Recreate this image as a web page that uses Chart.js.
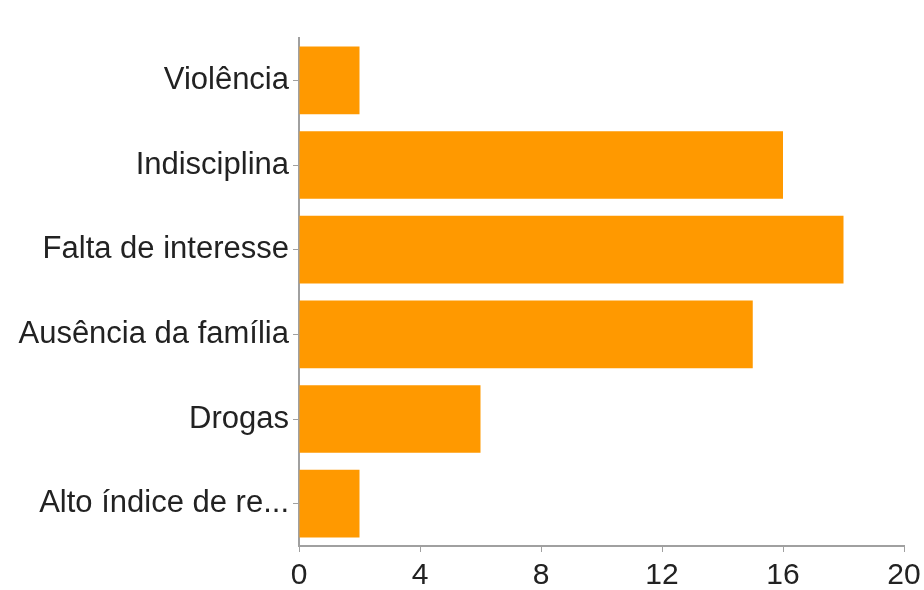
<!DOCTYPE html>
<html>
<head>
<meta charset="utf-8">
<script src="https://cdn.jsdelivr.net/npm/chart.js@4.4.1/dist/chart.umd.min.js"></script>
<style>
  html, body { margin: 0; padding: 0; background: #fff; }
  #wrap { width: 924px; height: 590px; }
</style>
</head>
<body>
<div id="wrap"><canvas id="chart" width="924" height="590"></canvas></div>
<script>
(function() {
  'use strict';

  var categories = [
    'Violência',
    'Indisciplina',
    'Falta de interesse',
    'Ausência da família',
    'Drogas',
    'Alto índice de re...'
  ];
  var values = [2, 16, 18, 15, 6, 2];
  var xTicks = [0, 4, 8, 12, 16, 20];

  var ORANGE = '#ff9900';
  var AXIS   = '#a0a0a0';
  var TEXT   = '#222222';
  var FONT   = "'Liberation Sans', Arial, sans-serif";

  new Chart(document.getElementById('chart'), {
    type: 'bar',
    data: {
      labels: categories,
      datasets: [{
        data: values,
        backgroundColor: ORANGE,
        borderWidth: 0,
        barPercentage: 0.8,
        categoryPercentage: 1.0
      }]
    },
    options: {
      indexAxis: 'y',
      responsive: false,
      animation: false,
      layout: { padding: { left: 0, right: 20, top: 38, bottom: 0 } },
      plugins: {
        legend: { display: false },
        tooltip: { enabled: false }
      },
      scales: {
        x: {
          min: 0,
          max: 20,
          afterBuildTicks: function(scale) {
            scale.ticks = xTicks.map(function(v) { return { value: v }; });
          },
          afterFit: function(scale) {
            scale.height = 44;
            scale.paddingLeft = 0;
            scale.paddingRight = 0;
          },
          border: { color: AXIS, width: 2 },
          grid: { drawOnChartArea: false, color: AXIS, tickLength: 6, lineWidth: 1 },
          ticks: { color: TEXT, font: { family: FONT, size: 30 }, padding: 6, maxRotation: 0 }
        },
        y: {
          afterFit: function(scale) { scale.width = 299; },
          border: { color: AXIS, width: 2 },
          grid: { offset: false, drawOnChartArea: false, color: AXIS, tickLength: 6, lineWidth: 1 },
          ticks: { color: TEXT, font: { family: FONT, size: 31 }, padding: 4 }
        }
      }
    }
  });
})();
</script>
</body>
</html>
